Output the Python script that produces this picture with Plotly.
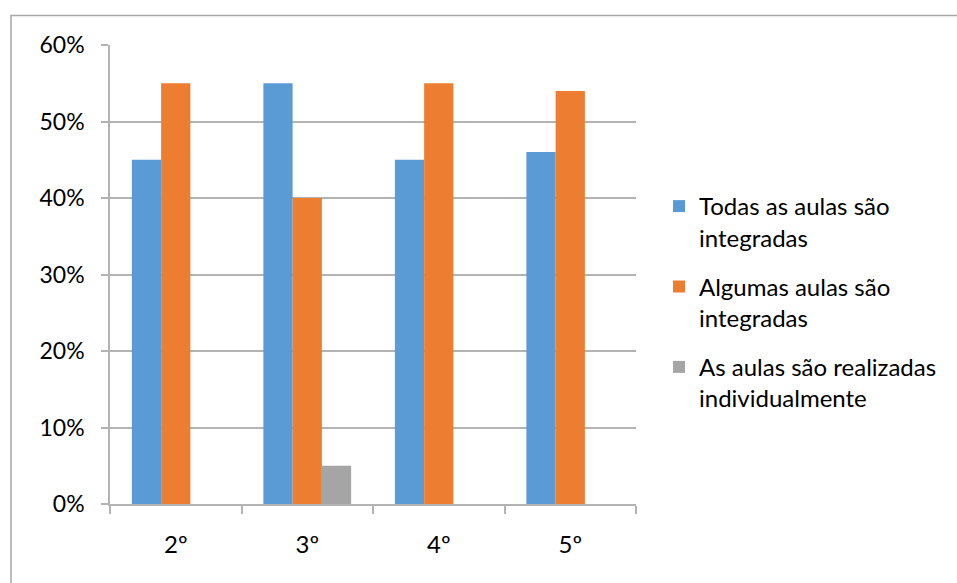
import plotly.graph_objects as go

# Survey results by school year
categories = ["2º", "3º", "4º", "5º"]
series_names = [
    "Todas as aulas são<br>integradas",
    "Algumas aulas são<br>integradas",
    "As aulas são realizadas<br>individualmente",
]
todas = [0.45, 0.55, 0.45, 0.46]
algumas = [0.55, 0.40, 0.55, 0.54]
individual = [0.0, 0.05, 0.0, 0.0]
colors = ["#5B9BD5", "#ED7D31", "#A5A5A5"]
y_ticks = [0, 0.1, 0.2, 0.3, 0.4, 0.5, 0.6]

FONT = "Lato, Carlito, Calibri, sans-serif"
GRID = "#B3B3B3"

fig = go.Figure()
for i, (name, vals) in enumerate(zip(series_names, [todas, algumas, individual])):
    fig.add_trace(go.Bar(
        x=categories, y=vals, name=name,
        marker=dict(color=colors[i], line=dict(width=0)),
        legendgroup=f"g{i}",
    ))

W, H = 957, 583
L, R, T, B = 110, 321, 45, 79
pw, ph = W - L - R, H - T - B

def px_to_paper_x(px):
    return (px - L) / pw

def px_to_paper_y(py):
    return 1 - (py - T) / ph

# outer chart frame (runs off the right and bottom edges)
fig.add_shape(type="rect", xref="paper", yref="paper",
              x0=px_to_paper_x(11), y0=px_to_paper_y(H + 20),
              x1=px_to_paper_x(W + 20), y1=px_to_paper_y(15.5),
              line=dict(color="#A6A6A6", width=1.5), fillcolor="rgba(0,0,0,0)",
              layer="below")

fig.update_layout(
    width=W, height=H,
    margin=dict(l=L, r=R, t=T, b=B, autoexpand=False),
    paper_bgcolor="white", plot_bgcolor="white",
    barmode="group", bargap=0.333, bargroupgap=0,
    font=dict(family=FONT, size=24, color="#000000"),
    showlegend=True,
    legend=dict(
        x=px_to_paper_x(659), y=px_to_paper_y(184), xanchor="left", yanchor="top",
        traceorder="grouped", tracegroupgap=15, valign="top",
        font=dict(family=FONT, size=24, color="#000000"),
        itemwidth=30, bgcolor="rgba(0,0,0,0)",
    ),
    xaxis=dict(
        showline=True, linecolor=GRID, linewidth=1.5,
        ticks="outside", tickson="boundaries", ticklen=8, tickcolor=GRID, tickwidth=1.5,
        ticklabelstandoff=18,
        showgrid=False, tickfont=dict(size=24),
    ),
    yaxis=dict(
        range=[0, 0.6], tickvals=y_ticks, tickformat=".0%",
        showline=True, linecolor=GRID, linewidth=1.5,
        ticks="outside", ticklen=7, tickcolor=GRID, tickwidth=1.5,
        showgrid=True, gridcolor=GRID, gridwidth=1.5,
        zeroline=False, ticklabelstandoff=12,
        tickfont=dict(size=23),
    ),
)

fig.write_html("out.html")
